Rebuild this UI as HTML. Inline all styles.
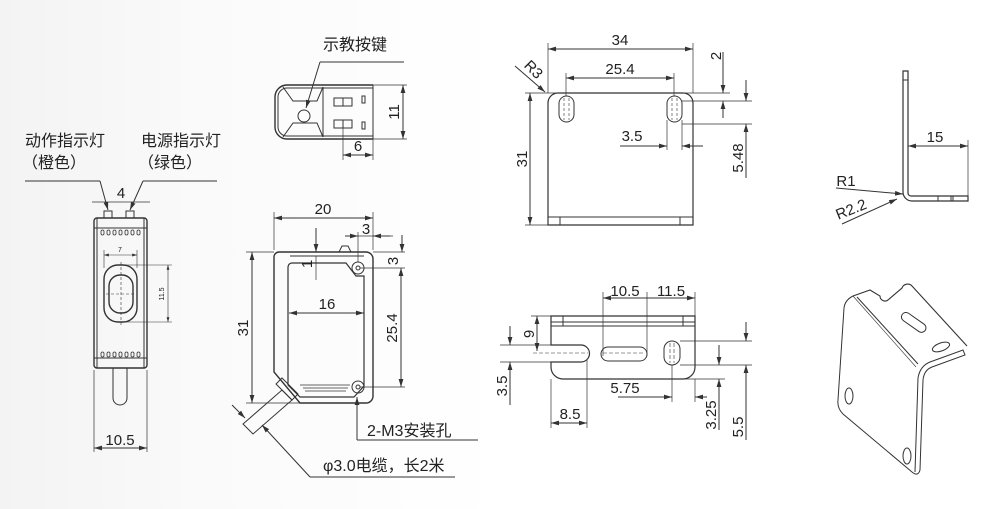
<!DOCTYPE html>
<html><head><meta charset="utf-8"><style>
html,body{margin:0;padding:0}
body{width:999px;height:509px;overflow:hidden;background:linear-gradient(90deg,#f3f3f3 0%,#fafafa 20%,#fff 50%,#fff 100%)}
svg{display:block}
text{font-family:"Liberation Sans","Noto Sans CJK SC",sans-serif;fill:#222}
.c{font-family:"Liberation Sans","Noto Sans CJK SC",sans-serif;font-size:16px}
</style></head><body>
<svg width="999" height="509" viewBox="0 0 999 509" xmlns="http://www.w3.org/2000/svg">
<defs>
<marker id="a" viewBox="0 0 10 6" refX="10" refY="3" markerWidth="8" markerHeight="5" orient="auto-start-reverse"><path d="M0,0L10,3L0,6z" fill="#333"/></marker>
</defs>
<g stroke="#333" stroke-width="1" fill="none">
<!-- LEFT VIEW -->
<rect x="94" y="218" width="53" height="150" rx="3" stroke-width="1.4"/>
<line x1="97" y1="218" x2="97" y2="368"/><line x1="144" y1="218" x2="144" y2="368"/>
<line x1="94" y1="228" x2="147" y2="228"/><line x1="94" y1="358" x2="147" y2="358"/>
<rect x="104" y="211" width="8" height="7"/><rect x="126" y="211" width="8" height="7"/>
<g stroke-width="0.8">
<rect x="101" y="230" width="3" height="5" rx="1.5"/><rect x="107" y="230" width="3" height="5" rx="1.5"/><rect x="113" y="230" width="3" height="5" rx="1.5"/><rect x="119" y="230" width="3" height="5" rx="1.5"/><rect x="125" y="230" width="3" height="5" rx="1.5"/><rect x="131" y="230" width="3" height="5" rx="1.5"/><rect x="137" y="230" width="3" height="5" rx="1.5"/>
<rect x="101" y="352" width="3" height="5" rx="1.5"/><rect x="107" y="352" width="3" height="5" rx="1.5"/><rect x="113" y="352" width="3" height="5" rx="1.5"/><rect x="119" y="352" width="3" height="5" rx="1.5"/><rect x="125" y="352" width="3" height="5" rx="1.5"/><rect x="131" y="352" width="3" height="5" rx="1.5"/><rect x="137" y="352" width="3" height="5" rx="1.5"/>
</g>
<rect x="104" y="265" width="33" height="57" rx="14" stroke-width="1.4"/>
<rect x="109" y="275" width="24" height="38" rx="11" stroke-width="1.4"/>
<path d="M113,368V398a7,7 0 0 0 14,0V368"/>
<line x1="94" y1="370" x2="94" y2="452" stroke-width="0.7"/><line x1="147" y1="370" x2="147" y2="452" stroke-width="0.7"/>
<line x1="94" y1="448" x2="147" y2="448" marker-start="url(#a)" marker-end="url(#a)"/>
<line x1="92" y1="202" x2="150" y2="202" stroke-width="0.7"/>
<line x1="25" y1="181" x2="100" y2="181"/><line x1="100" y1="181" x2="108" y2="210" marker-end="url(#a)"/>
<line x1="217" y1="181" x2="143" y2="181"/><line x1="143" y1="181" x2="130" y2="210" marker-end="url(#a)"/>
<g stroke-width="0.6"><line x1="104" y1="255" x2="137" y2="255" marker-start="url(#a)" marker-end="url(#a)"/><line x1="104" y1="250" x2="104" y2="268"/><line x1="137" y1="250" x2="137" y2="268"/>
<line x1="168" y1="265" x2="168" y2="322" marker-start="url(#a)" marker-end="url(#a)"/><line x1="121" y1="265" x2="172" y2="265"/><line x1="121" y1="322" x2="172" y2="322"/>
<line x1="121" y1="262" x2="121" y2="326" stroke-dasharray="3 2"/><line x1="106" y1="294" x2="136" y2="294" stroke-dasharray="3 2"/></g>

<!-- FRONT VIEW -->
<path d="M279,252H366a7,7 0 0 1 7,7V396a7,7 0 0 1 -7,7H300L274,372V257a5,5 0 0 1 5,-5z" stroke-width="1.4"/>
<path d="M290,256H364"/>
<path d="M292,263H346L356,276H364V386L354,397H300L288,385V267a4,4 0 0 1 4,-4z" stroke-width="1.2"/>
<path d="M339,252l3,-6h6l3,6"/>
<g stroke-width="0.8"><line x1="300" y1="385" x2="350" y2="385"/><line x1="303" y1="388" x2="348" y2="388"/><line x1="305" y1="391" x2="346" y2="391"/></g>
<circle cx="358" cy="268" r="6"/><circle cx="358" cy="268" r="2"/>
<circle cx="358" cy="387" r="6"/><circle cx="358" cy="387" r="2"/>
<path d="M282,378L298,394L292,400L276,384z"/>
<path d="M282,390L292,400L253,434L243,424z"/>
<line x1="274" y1="218" x2="373" y2="218" marker-start="url(#a)" marker-end="url(#a)"/>
<line x1="274" y1="212" x2="274" y2="250" stroke-width="0.7"/><line x1="373" y1="212" x2="373" y2="250" stroke-width="0.7"/>
<line x1="252" y1="252" x2="252" y2="403" marker-start="url(#a)" marker-end="url(#a)"/>
<line x1="246" y1="252" x2="274" y2="252" stroke-width="0.7"/><line x1="246" y1="403" x2="300" y2="403" stroke-width="0.7"/>
<line x1="289" y1="313" x2="364" y2="313" marker-start="url(#a)" marker-end="url(#a)"/>
<line x1="401" y1="268" x2="401" y2="387" marker-start="url(#a)" marker-end="url(#a)"/>
<line x1="360" y1="268" x2="405" y2="268" stroke-width="0.7"/><line x1="360" y1="387" x2="405" y2="387" stroke-width="0.7"/>
<line x1="358" y1="236" x2="393" y2="236" stroke-width="0.7"/><line x1="345" y1="236" x2="358" y2="236" marker-end="url(#a)"/><line x1="390" y1="236" x2="373" y2="236" marker-end="url(#a)"/>
<line x1="358" y1="232" x2="358" y2="262" stroke-width="0.7"/>
<line x1="402" y1="235" x2="402" y2="252" marker-end="url(#a)"/><line x1="373" y1="252" x2="405" y2="252" stroke-width="0.7"/>
<line x1="316" y1="228" x2="316" y2="252" marker-end="url(#a)"/><line x1="316" y1="256" x2="316" y2="280" stroke-width="0.7"/>
<line x1="357" y1="440" x2="357" y2="397" marker-end="url(#a)"/><line x1="357" y1="440" x2="478" y2="440"/>
<line x1="310" y1="477" x2="455" y2="477"/><line x1="310" y1="477" x2="262" y2="425" marker-end="url(#a)"/>
<line x1="232" y1="405" x2="245" y2="418" marker-end="url(#a)"/>

<!-- TOP VIEW -->
<path d="M373,85H287a12,12 0 0 0 -12,12V127a12,12 0 0 0 12,12H373" stroke-width="1.4"/>
<path d="M373,88H287a9,9 0 0 0 -9,9V127a9,9 0 0 0 9,9H373"/>
<path d="M283,87l10,14h24l6,-14M283,137l10,-14h24l6,14"/>
<line x1="323" y1="87" x2="323" y2="137"/><line x1="373" y1="85" x2="373" y2="139"/>
<circle cx="304" cy="116" r="6"/>
<rect x="334" y="98" width="9" height="8"/><rect x="343" y="98" width="9" height="8"/><rect x="334" y="120" width="9" height="8"/><rect x="343" y="120" width="9" height="8"/>
<rect x="362" y="96" width="3" height="7"/><rect x="362" y="122" width="3" height="7"/>
<line x1="320" y1="62" x2="404" y2="62"/><line x1="320" y1="62" x2="306" y2="108" marker-end="url(#a)"/>
<line x1="403" y1="85" x2="403" y2="139" marker-start="url(#a)" marker-end="url(#a)"/>
<line x1="373" y1="85" x2="407" y2="85" stroke-width="0.7"/><line x1="373" y1="139" x2="407" y2="139" stroke-width="0.7"/>
<line x1="343" y1="128" x2="343" y2="160" stroke-width="0.7"/><line x1="373" y1="139" x2="373" y2="160" stroke-width="0.7"/>
<line x1="343" y1="155" x2="373" y2="155" marker-start="url(#a)" marker-end="url(#a)"/>

<!-- BRACKET FRONT -->
<path d="M548,225V103a10,10 0 0 1 10,-10H683a10,10 0 0 1 10,10V225z" stroke-width="1.2"/>
<line x1="548" y1="217" x2="693" y2="217"/><line x1="560" y1="217" x2="560" y2="225"/><line x1="680" y1="217" x2="680" y2="225"/>
<rect x="559" y="96" width="15" height="26" rx="7.5"/><rect x="667" y="96" width="15" height="26" rx="7.5"/>
<g stroke-width="0.6" stroke-dasharray="3 2"><line x1="564" y1="98" x2="564" y2="120"/><line x1="569" y1="98" x2="569" y2="120"/><line x1="672" y1="98" x2="672" y2="120"/><line x1="677" y1="98" x2="677" y2="120"/></g>
<line x1="548" y1="49" x2="693" y2="49" marker-start="url(#a)" marker-end="url(#a)"/>
<line x1="548" y1="43" x2="548" y2="93" stroke-width="0.7"/><line x1="693" y1="43" x2="693" y2="93" stroke-width="0.7"/>
<line x1="566" y1="78" x2="674" y2="78" marker-start="url(#a)" marker-end="url(#a)"/>
<line x1="566" y1="73" x2="566" y2="96" stroke-width="0.7"/><line x1="674" y1="73" x2="674" y2="96" stroke-width="0.7"/>
<line x1="530" y1="93" x2="530" y2="225" marker-start="url(#a)" marker-end="url(#a)"/>
<line x1="525" y1="93" x2="730" y2="93" stroke-width="0.7"/><line x1="525" y1="225" x2="548" y2="225" stroke-width="0.7"/>
<line x1="515" y1="66" x2="545" y2="92" marker-end="url(#a)"/>
<line x1="682" y1="101" x2="752" y2="101" stroke-width="0.7"/><line x1="682" y1="124" x2="752" y2="124" stroke-width="0.7"/>
<line x1="723" y1="52" x2="723" y2="93" marker-end="url(#a)"/><line x1="723" y1="118" x2="723" y2="101" marker-end="url(#a)"/>
<line x1="746" y1="80" x2="746" y2="101" marker-end="url(#a)"/><line x1="746" y1="178" x2="746" y2="124" marker-end="url(#a)"/>
<line x1="620" y1="146" x2="667" y2="146" marker-end="url(#a)"/><line x1="703" y1="146" x2="682" y2="146" marker-end="url(#a)"/>
<line x1="667" y1="120" x2="667" y2="150" stroke-width="0.7"/><line x1="682" y1="120" x2="682" y2="150" stroke-width="0.7"/>

<!-- BRACKET BOTTOM -->
<path d="M551,316H695V367a12,12 0 0 1 -12,12H563a12,12 0 0 1 -12,-12V362H581a8.5,8.5 0 0 0 0,-17H551z" stroke-width="1.2"/>
<line x1="551" y1="322" x2="695" y2="322"/><line x1="551" y1="326" x2="695" y2="326"/><line x1="563" y1="316" x2="563" y2="326"/><line x1="683" y1="316" x2="683" y2="326"/>
<rect x="601" y="347" width="46" height="14" rx="7"/>
<rect x="664" y="341" width="16" height="24" rx="8"/>
<g stroke-width="0.6" stroke-dasharray="4 2"><line x1="533" y1="353" x2="588" y2="353"/><line x1="603" y1="353" x2="645" y2="353"/><line x1="670" y1="343" x2="670" y2="363"/><line x1="674" y1="343" x2="674" y2="363"/></g>
<line x1="603" y1="298" x2="695" y2="298" marker-start="url(#a)" marker-end="url(#a)"/>
<line x1="603" y1="292" x2="603" y2="356" stroke-width="0.7"/><line x1="647" y1="292" x2="647" y2="356" stroke-width="0.7"/><line x1="695" y1="292" x2="695" y2="316" stroke-width="0.7"/>
<line x1="531" y1="316" x2="551" y2="316" stroke-width="0.7"/>
<line x1="537" y1="316" x2="537" y2="351" marker-start="url(#a)" marker-end="url(#a)"/>
<line x1="500" y1="345" x2="551" y2="345" stroke-width="0.7"/><line x1="500" y1="362" x2="551" y2="362" stroke-width="0.7"/>
<line x1="510" y1="326" x2="510" y2="345" marker-end="url(#a)"/><line x1="510" y1="405" x2="510" y2="362" marker-end="url(#a)"/>
<line x1="551" y1="379" x2="551" y2="428" stroke-width="0.7"/><line x1="587" y1="360" x2="587" y2="428" stroke-width="0.7"/>
<line x1="551" y1="423" x2="587" y2="423" marker-start="url(#a)" marker-end="url(#a)"/>
<line x1="618" y1="397" x2="672" y2="397" marker-end="url(#a)"/><line x1="707" y1="397" x2="695" y2="397" marker-end="url(#a)"/>
<line x1="672" y1="365" x2="672" y2="402" stroke-width="0.7"/><line x1="695" y1="379" x2="695" y2="402" stroke-width="0.7"/>
<line x1="680" y1="341" x2="752" y2="341" stroke-width="0.7"/><line x1="680" y1="365" x2="752" y2="365" stroke-width="0.7"/><line x1="683" y1="379" x2="725" y2="379" stroke-width="0.7"/>
<line x1="719" y1="345" x2="719" y2="365" marker-end="url(#a)"/><line x1="719" y1="430" x2="719" y2="379" marker-end="url(#a)"/>
<line x1="746" y1="322" x2="746" y2="341" marker-end="url(#a)"/><line x1="746" y1="440" x2="746" y2="365" marker-end="url(#a)"/>

<!-- SIDE BRACKET -->
<path d="M903,71H908V193a3,3 0 0 0 3,3H968V201H912a9,9 0 0 1 -9,-9z" stroke-width="1.2"/>
<line x1="903" y1="80" x2="908" y2="80"/><line x1="938" y1="196" x2="938" y2="201"/><line x1="951" y1="196" x2="951" y2="201"/><line x1="953" y1="196" x2="953" y2="201"/>
<line x1="908" y1="146" x2="968" y2="146" marker-start="url(#a)" marker-end="url(#a)"/>
<line x1="968" y1="140" x2="968" y2="196" stroke-width="0.7"/>
<line x1="836" y1="188" x2="903" y2="194" marker-end="url(#a)"/>
<line x1="842" y1="224" x2="897" y2="199" marker-end="url(#a)"/>

<!-- ISOMETRIC -->
<path d="M853,296L870,290L880,296A5,5 0 0 0 888,300L902,288A6,6 0 0 1 912,286L967,346" stroke-width="1.1"/>
<path d="M853,296Q845,300 844,308L838,400Q837,408 843,414L912,472Q918,477 920,470L923,380Q924,370 932,367L965,355L963,350L930,362Q920,366 918,378"/>
<line x1="857" y1="297" x2="918" y2="364"/>
<line x1="853" y1="296" x2="916" y2="367" stroke-width="0.6"/>
<line x1="918" y1="378" x2="915" y2="472"/>
<rect x="900" y="318" width="28" height="9" rx="4.5" transform="rotate(35 914 322)"/>
<ellipse cx="941" cy="347" rx="9" ry="4" transform="rotate(-20 941 347)"/>
<ellipse cx="849" cy="396" rx="4" ry="8"/><ellipse cx="907" cy="456" rx="4" ry="8"/>
</g>
<!-- TEXT -->
<g class="c">
<text x="25" y="146" class="c">动作指示灯</text><text x="22" y="168" class="c">（橙色）</text>
<text x="141" y="146" class="c">电源指示灯</text><text x="138" y="168" class="c">（绿色）</text>
<text x="323" y="50" class="c">示教按键</text>
<text x="367" y="436" class="c">2-M3安装孔</text>
<text x="323" y="471" class="c">φ3.0电缆，长2米</text>
</g>
<g font-size="15" text-anchor="middle">
<text x="121" y="198">4</text>
<text x="120" y="445">10.5</text>
<text x="120" y="252" font-size="7">7</text>
<text x="0" y="0" font-size="7" transform="translate(164 294) rotate(-90)">11.5</text>
<text x="323" y="214">20</text>
<text x="327" y="309">16</text>
<text x="366" y="234">3</text>
<text x="0" y="0" transform="translate(248 328) rotate(-90)">31</text>
<text x="0" y="0" transform="translate(397 328) rotate(-90)">25.4</text>
<text x="0" y="0" transform="translate(398 261) rotate(-90)">3</text>
<text x="0" y="0" transform="translate(312 264) rotate(-90)">1</text>
<text x="0" y="0" transform="translate(399 112) rotate(-90)">11</text>
<text x="358" y="151">6</text>
<text x="620" y="45">34</text>
<text x="620" y="74">25.4</text>
<text x="632" y="141">3.5</text>
<text x="0" y="0" transform="translate(527 159) rotate(-90)">31</text>
<text x="0" y="0" transform="translate(721 56) rotate(-90)">2</text>
<text x="0" y="0" transform="translate(743 158) rotate(-90)">5.48</text>
<text x="0" y="0" transform="translate(530 73) rotate(45)">R3</text>
<text x="625" y="296">10.5</text>
<text x="671" y="296">11.5</text>
<text x="0" y="0" transform="translate(534 334) rotate(-90)">9</text>
<text x="0" y="0" transform="translate(507 386) rotate(-90)">3.5</text>
<text x="625" y="393">5.75</text>
<text x="570" y="419">8.5</text>
<text x="0" y="0" transform="translate(716 415) rotate(-90)">3.25</text>
<text x="0" y="0" transform="translate(743 427) rotate(-90)">5.5</text>
<text x="935" y="142">15</text>
<text x="846" y="186">R1</text>
<text x="0" y="0" transform="translate(853 214) rotate(-22)">R2.2</text>
</g>
</svg>
</body></html>
